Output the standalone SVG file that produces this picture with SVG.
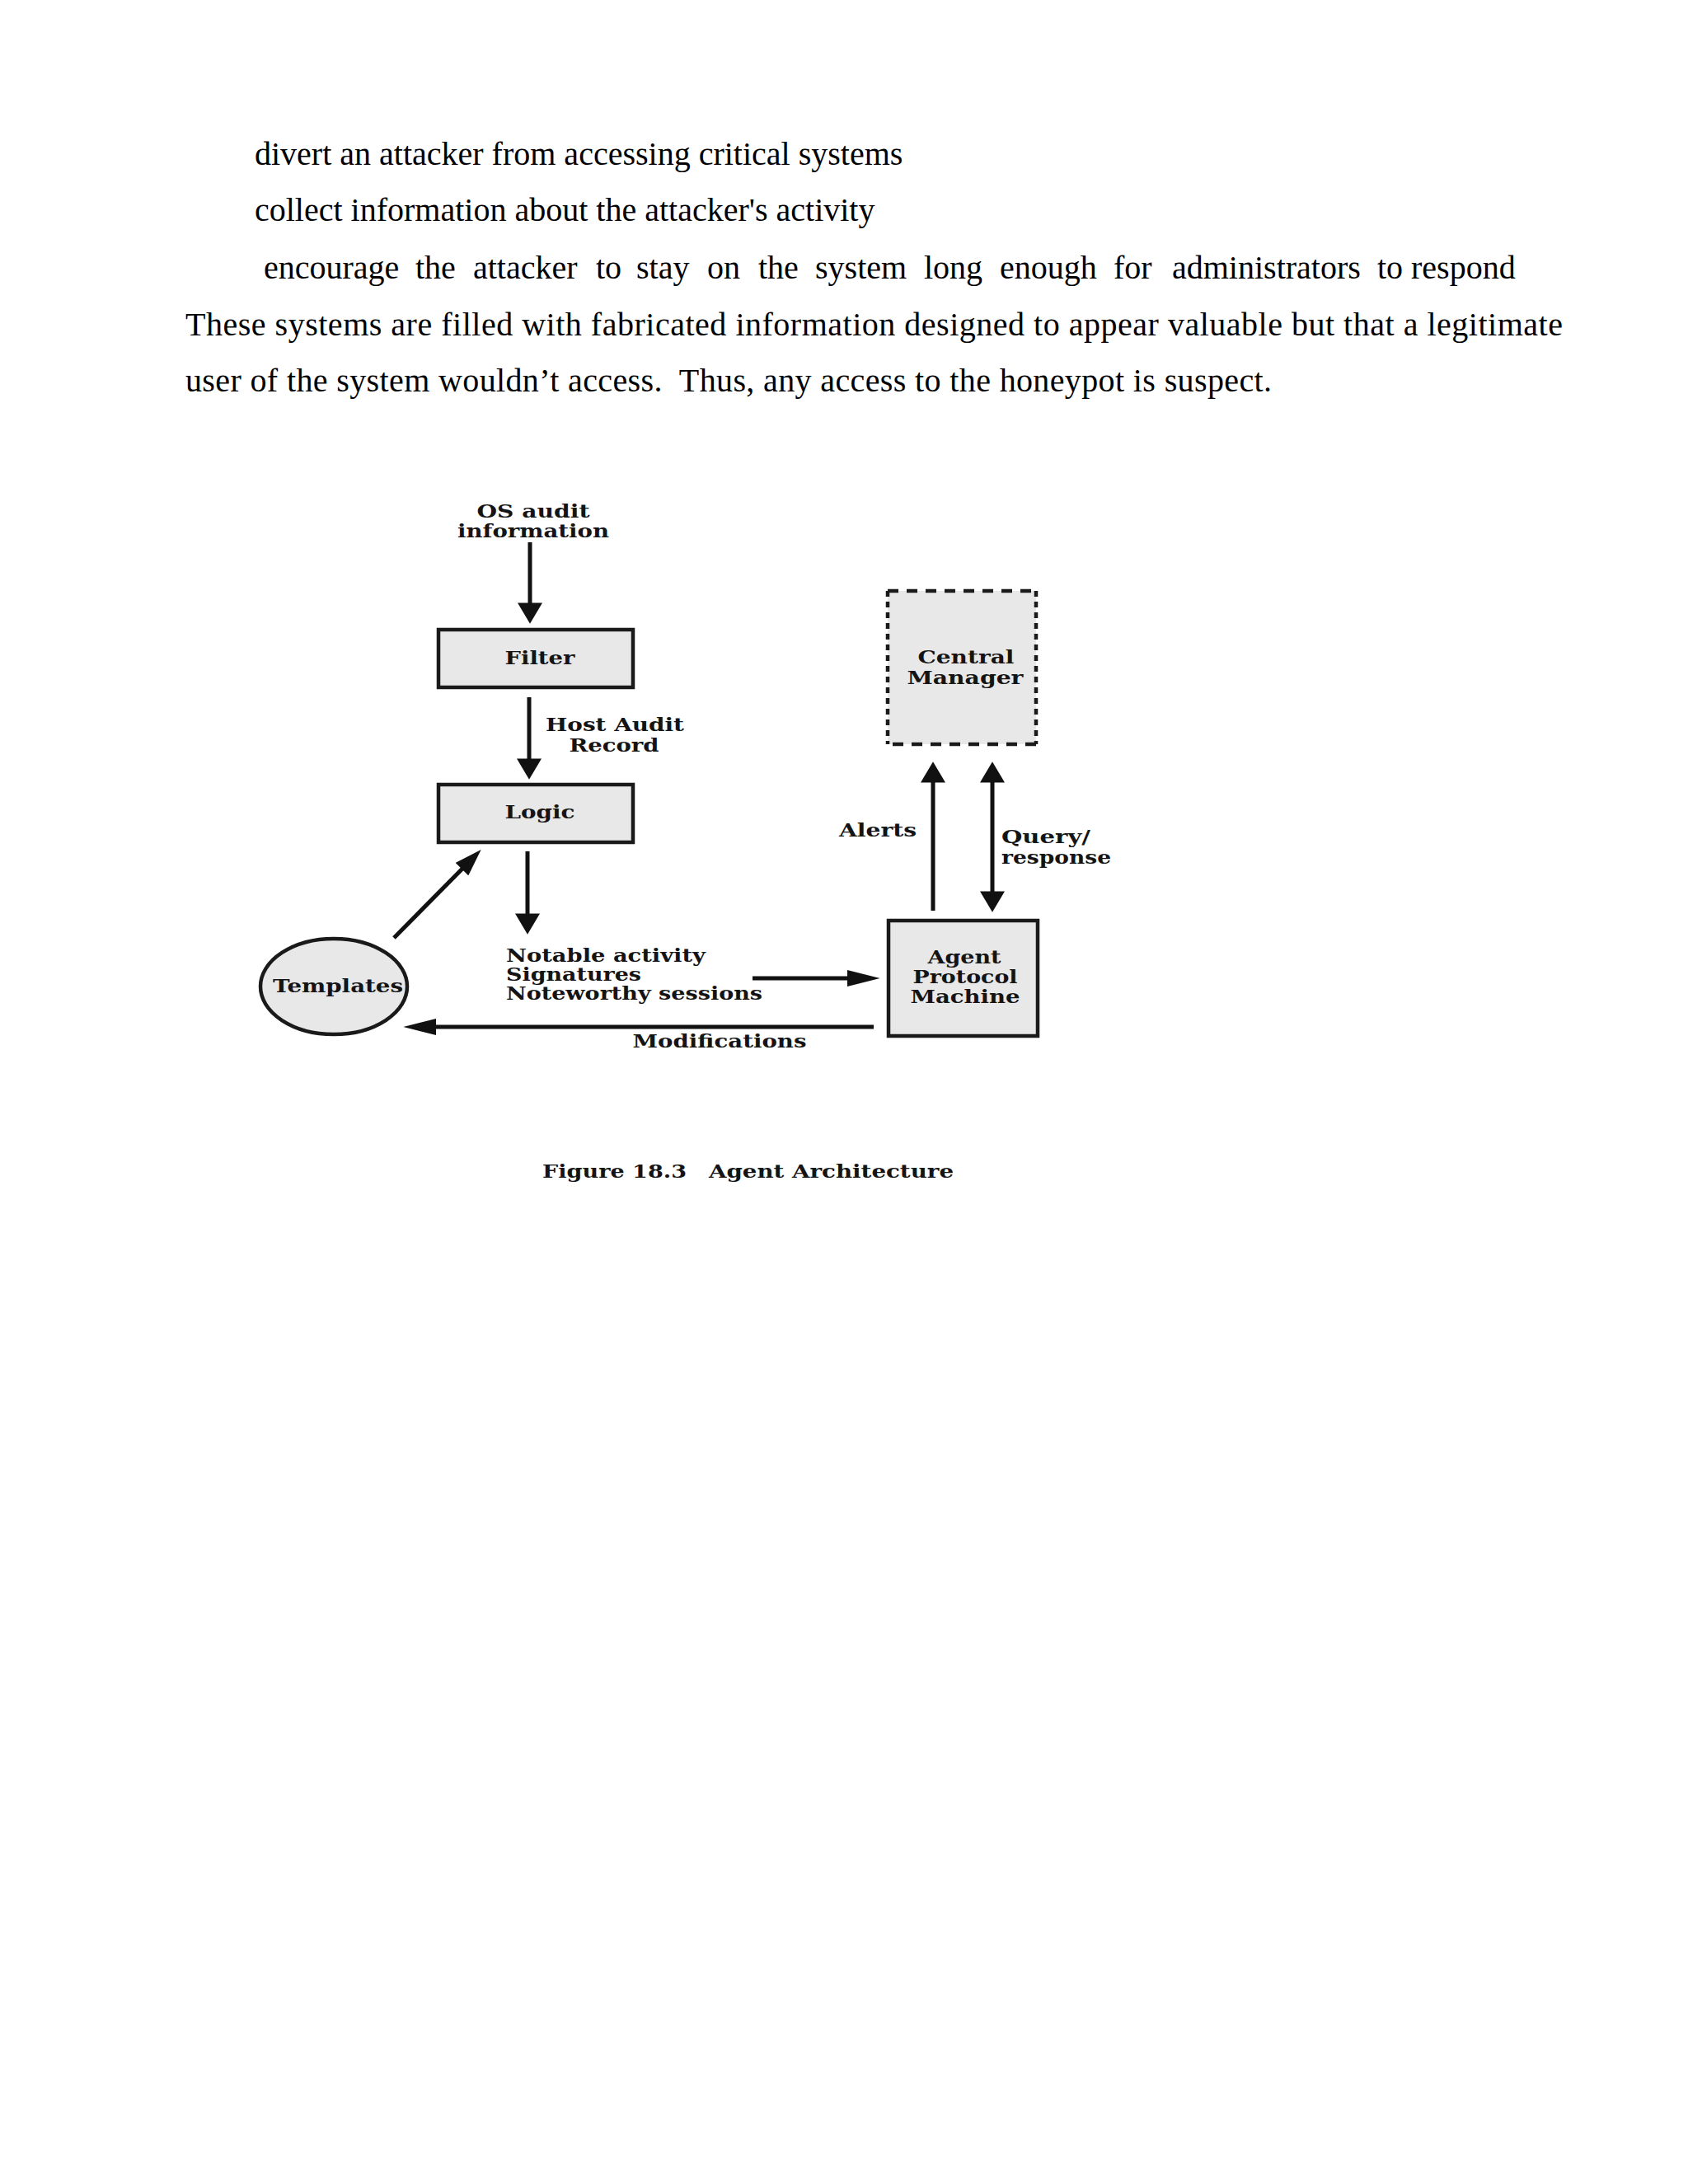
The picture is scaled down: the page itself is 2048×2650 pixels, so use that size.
<svg xmlns="http://www.w3.org/2000/svg" width="2048" height="2650" viewBox="0 0 2048 2650">
<style>
.body{font-family:"Liberation Serif","Times New Roman",serif;font-size:40px;fill:#000}
.lbl{font-family:"DejaVu Serif","Liberation Serif",serif;font-weight:bold;font-size:23px;fill:#141414}
.mid{text-anchor:middle}
.box{fill:#e8e8e8;stroke:#1a1a1a;stroke-width:4.5}
.cm{fill:#e8e8e8;stroke:none}
.dash{stroke:#1a1a1a;stroke-width:4.5;fill:none}
.arr{stroke:#111;stroke-width:5;fill:none}
</style>
<defs>
<marker id="mv" markerUnits="userSpaceOnUse" markerWidth="30" markerHeight="30" refX="2" refY="12.5" orient="auto-start-reverse" viewBox="0 0 21 25">
<path d="M0,0 L21,12.5 L0,25 Z" fill="#111"/>
</marker>
<marker id="mh" markerUnits="userSpaceOnUse" markerWidth="40" markerHeight="20" refX="2" refY="8.5" orient="auto" viewBox="0 0 34 17">
<path d="M0,0 L34,8.5 L0,17 Z" fill="#111"/>
</marker>
<marker id="md" markerUnits="userSpaceOnUse" markerWidth="34" markerHeight="22" refX="2" refY="10" orient="auto" viewBox="0 0 30 20">
<path d="M0,0 L30,10 L0,20 Z" fill="#111"/>
</marker>
</defs>
<rect width="2048" height="2650" fill="#fff"/>

<g id="body-text">
<text class="body" x="309" y="200">divert an attacker from accessing critical systems</text>
<text class="body" x="309" y="268">collect information about the attacker's activity</text>
<text class="body" y="338"><tspan x="320">encourage</tspan><tspan x="504">the</tspan><tspan x="574">attacker</tspan><tspan x="723">to</tspan><tspan x="772">stay</tspan><tspan x="858">on</tspan><tspan x="920">the</tspan><tspan x="989">system</tspan><tspan x="1121">long</tspan><tspan x="1213">enough</tspan><tspan x="1351">for</tspan><tspan x="1422">administrators</tspan><tspan x="1671">to</tspan><tspan x="1712">respond</tspan></text>
<text class="body" x="225" y="407" textLength="1671" lengthAdjust="spacing">These systems are filled with fabricated information designed to appear valuable but that a legitimate</text>
<text class="body" x="225" y="475" xml:space="preserve" textLength="1318" lengthAdjust="spacing">user of the system wouldn’t access.  Thus, any access to the honeypot is suspect.</text>
</g>

<g id="os-audit">
<text class="lbl mid" x="647" y="628" textLength="137" lengthAdjust="spacingAndGlyphs">OS audit</text>
<text class="lbl mid" x="647" y="652" textLength="184" lengthAdjust="spacingAndGlyphs">information</text>
</g>

<g id="filter">
<rect class="box" x="532" y="764" width="236" height="70"/>
<text class="lbl mid" x="655" y="806" textLength="85" lengthAdjust="spacingAndGlyphs">Filter</text>
</g>

<g id="logic">
<rect class="box" x="532" y="952" width="236" height="70"/>
<text class="lbl mid" x="655" y="993" textLength="85" lengthAdjust="spacingAndGlyphs">Logic</text>
</g>

<g id="central-manager">
<rect class="cm" x="1077" y="717" width="180" height="186"/>
<line class="dash" x1="1077" y1="717" x2="1257" y2="717" stroke-dasharray="13 10"/>
<line class="dash" x1="1257" y1="903" x2="1077" y2="903" stroke-dasharray="13 10"/>
<line class="dash" x1="1077" y1="717" x2="1077" y2="903" stroke-dasharray="7 6"/>
<line class="dash" x1="1257" y1="717" x2="1257" y2="903" stroke-dasharray="7 6"/>
<text class="lbl mid" x="1172" y="805" textLength="117" lengthAdjust="spacingAndGlyphs">Central</text>
<text class="lbl mid" x="1171" y="830" textLength="141" lengthAdjust="spacingAndGlyphs">Manager</text>
</g>

<g id="agent-protocol-machine">
<rect class="box" x="1078" y="1117" width="181" height="140"/>
<text class="lbl mid" x="1170" y="1169" textLength="89" lengthAdjust="spacingAndGlyphs">Agent</text>
<text class="lbl mid" x="1171" y="1193" textLength="127" lengthAdjust="spacingAndGlyphs">Protocol</text>
<text class="lbl mid" x="1171" y="1217" textLength="133" lengthAdjust="spacingAndGlyphs">Machine</text>
</g>

<g id="templates">
<ellipse class="box" cx="405" cy="1197" rx="89" ry="58"/>
<text class="lbl mid" x="410" y="1204" textLength="158" lengthAdjust="spacingAndGlyphs">Templates</text>
</g>

<g id="notable">
<text class="lbl" x="614" y="1167" textLength="242" lengthAdjust="spacingAndGlyphs">Notable activity</text>
<text class="lbl" x="614" y="1190" textLength="164" lengthAdjust="spacingAndGlyphs">Signatures</text>
<text class="lbl" x="614" y="1213" textLength="311" lengthAdjust="spacingAndGlyphs">Noteworthy sessions</text>
</g>

<g id="connectors">
<line class="arr" x1="643" y1="658" x2="643" y2="734" marker-end="url(#mv)"/>
<line class="arr" x1="642" y1="846" x2="642" y2="923" marker-end="url(#mv)"/>
<text class="lbl mid" x="746" y="887" textLength="168" lengthAdjust="spacingAndGlyphs">Host Audit</text>
<text class="lbl mid" x="745" y="912" textLength="109" lengthAdjust="spacingAndGlyphs">Record</text>
<line class="arr" x1="640" y1="1033" x2="640" y2="1111" marker-end="url(#mv)"/>
<line class="arr" x1="1132" y1="1105" x2="1132" y2="947" marker-end="url(#mv)"/>
<text class="lbl mid" x="1065" y="1015" textLength="94" lengthAdjust="spacingAndGlyphs">Alerts</text>
<line class="arr" x1="1204" y1="947" x2="1204" y2="1084" marker-start="url(#mv)" marker-end="url(#mv)"/>
<text class="lbl" x="1215" y="1023" textLength="108" lengthAdjust="spacingAndGlyphs">Query/</text>
<text class="lbl" x="1215" y="1048" textLength="133" lengthAdjust="spacingAndGlyphs">response</text>
<line class="arr" x1="913" y1="1187" x2="1030" y2="1187" marker-end="url(#mh)"/>
<line class="arr" x1="1060" y1="1246" x2="527" y2="1246" marker-end="url(#mh)"/>
<text class="lbl mid" x="873" y="1271" textLength="211" lengthAdjust="spacingAndGlyphs">Modifications</text>
<line class="arr" x1="478" y1="1138" x2="562" y2="1053" marker-end="url(#md)"/>
</g>

<g id="caption">
<text class="lbl" x="658" y="1429" textLength="175" lengthAdjust="spacingAndGlyphs">Figure 18.3</text>
<text class="lbl" x="860" y="1429" textLength="297" lengthAdjust="spacingAndGlyphs">Agent Architecture</text>
</g>
</svg>
